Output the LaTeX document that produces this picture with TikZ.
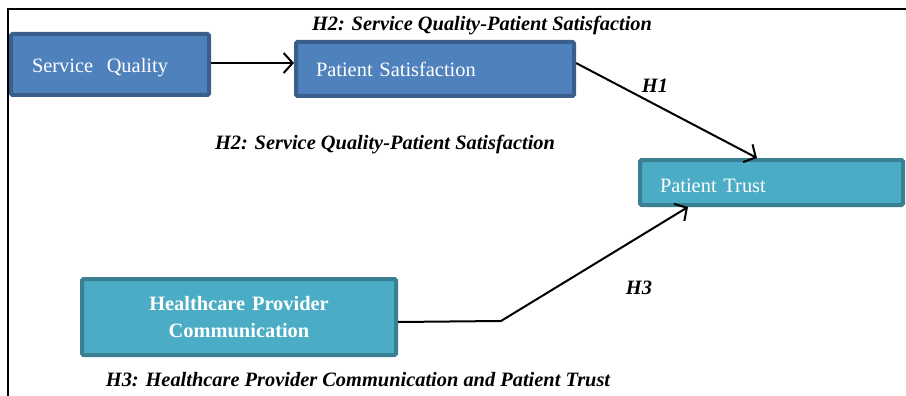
\documentclass[tikz,border=0pt]{standalone}
\usepackage{fontspec}
\setmainfont{Liberation Serif}
\usetikzlibrary{arrows.meta}
\definecolor{bfill}{HTML}{4F81BD}
\definecolor{bline}{HTML}{3A5F8B}
\definecolor{tfill}{HTML}{4BACC6}
\definecolor{tline}{HTML}{3A7F92}
\begin{document}
\begin{tikzpicture}[x=1pt,y=-1pt,
  boxbase/.style={draw, line width=4pt, rounded corners=1.5pt, text=white,
    font=\fontsize{20.4}{26}\selectfont, inner ysep=0pt},
  bluebox/.style={boxbase, fill=bfill, draw=bline},
  tealbox/.style={boxbase, fill=tfill, draw=tline},
  arr/.style={line width=2pt, -{Straight Barb[length=9pt,width=20pt,line width=2pt]}},
  hyp/.style={font=\fontsize{20.4}{24}\selectfont\bfseries\itshape, inner sep=0pt}]
\useasboundingbox (0,0) rectangle (906,396);
\draw[line width=1.5pt] (906,9) -- (8,9) -- (8,396);
\node[bluebox, minimum width=198pt, minimum height=61pt, inner xsep=21pt,
  text width=156pt, align=left, text height=17pt, text depth=0pt] (SQ) at (110,64.5) {Service\ \ Quality};
\node[bluebox, minimum width=278pt, minimum height=54pt, inner xsep=20pt,
  text width=238pt, align=left] (PS) at (435,69) {Patient Satisfaction};
\node[tealbox, minimum width=263pt, minimum height=45pt, inner xsep=20pt,
  text width=223pt, align=left, text height=20pt, text depth=0pt] (PT) at (771.5,182.5) {Patient Trust};
\node[tealbox, minimum width=314pt, minimum height=76pt, inner xsep=10pt,
  text width=294pt, align=center, font=\fontsize{20.4}{27}\selectfont\bfseries]
  (HPC) at (239,317) {Healthcare Provider\\Communication};
\coordinate (bend) at (501,321);
\draw[arr] (SQ.east |- 0,63) -- (PS.west |- 0,63);
\draw[arr] (PS.east |- 0,63) -- (PT.north -| 757,0);
\draw[arr] (HPC.east |- 0,322) -- (bend) -- (PT.south -| 688,0);
\node[hyp] (h2a) at (482,26) {H2: Service Quality-Patient Satisfaction};
\node[hyp] (h1) at (655,86) {H1};
\node[hyp] (h2b) at (385,145) {H2: Service Quality-Patient Satisfaction};
\node[hyp] (h3) at (639,288) {H3};
\node[hyp] (h3b) at (358,380) {H3: Healthcare Provider Communication and Patient Trust};
\end{tikzpicture}
\end{document}
